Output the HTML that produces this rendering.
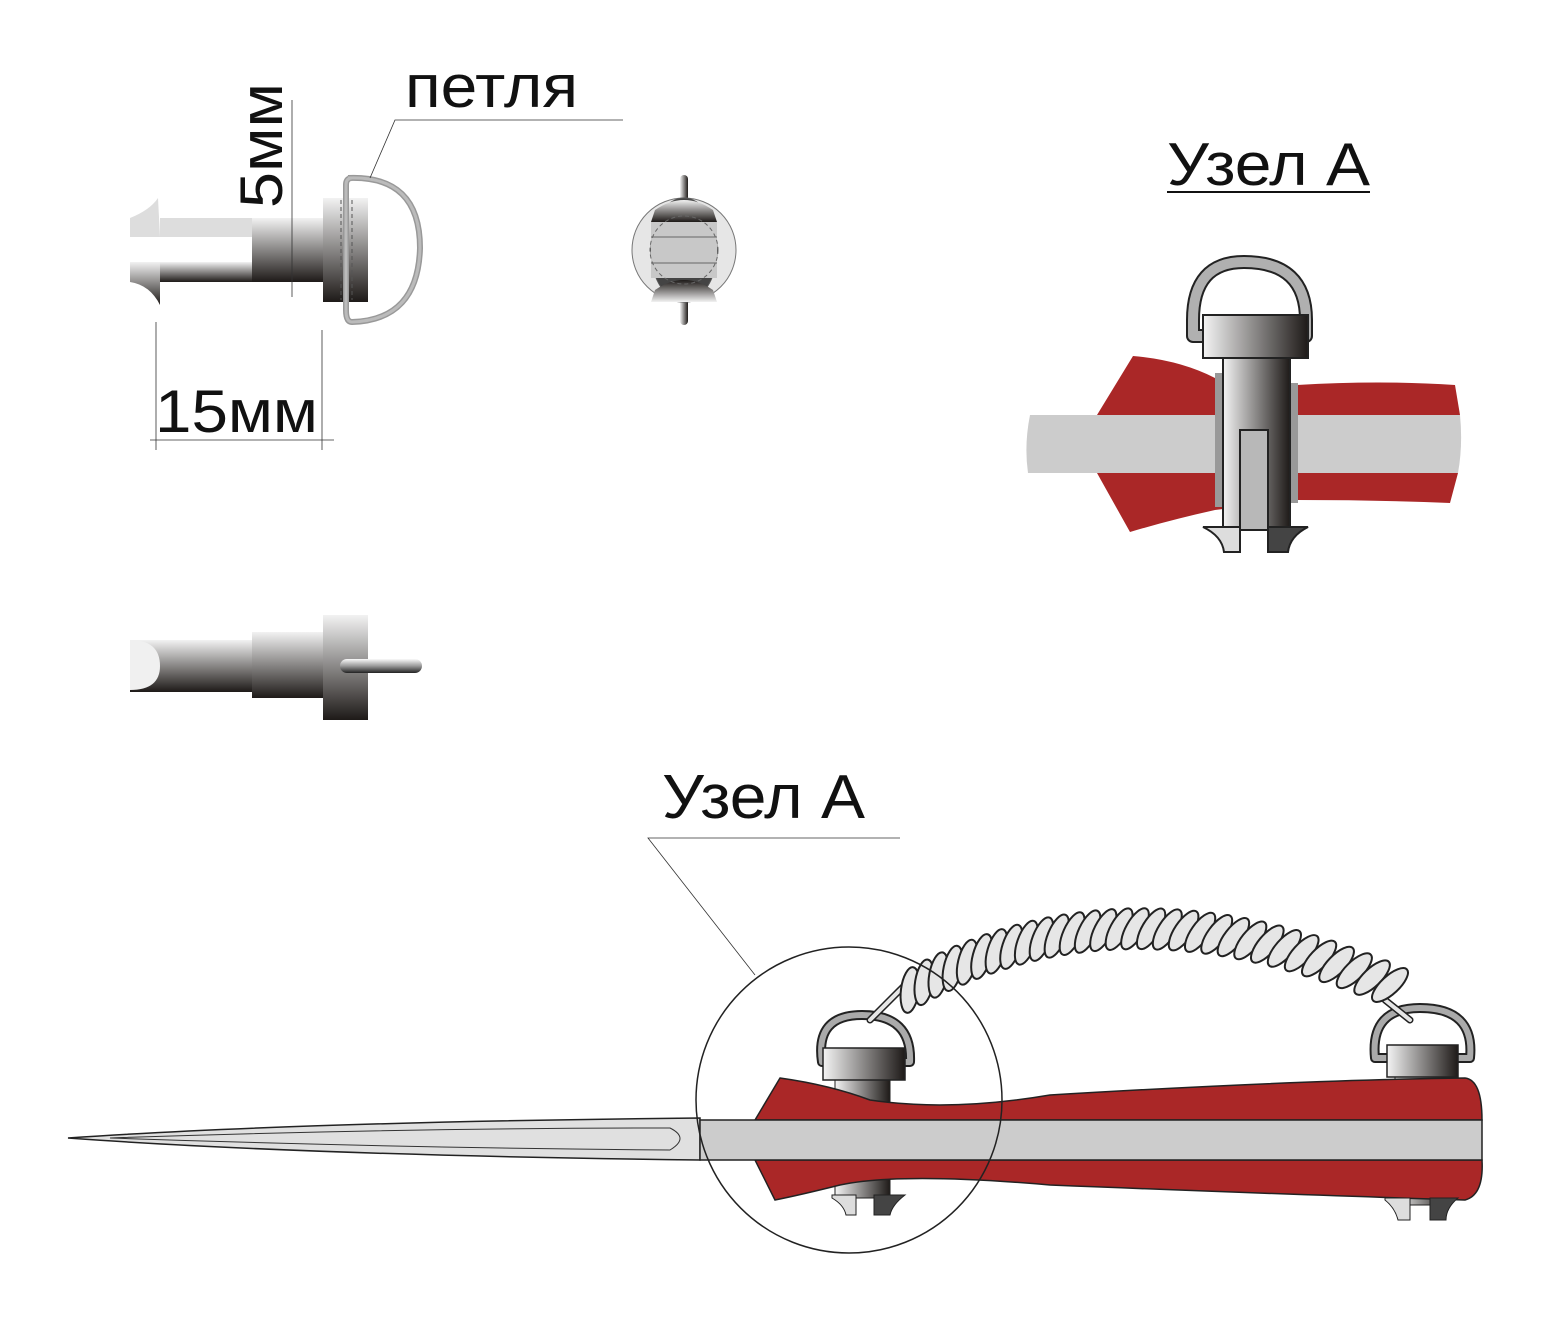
<!DOCTYPE html>
<html><head><meta charset="utf-8"><style>
html,body{margin:0;padding:0;background:#fff}
svg{display:block}
text{font-family:"Liberation Sans","DejaVu Sans",sans-serif;fill:#111}
</style></head><body>
<svg id="s" width="1549" height="1341" viewBox="0 0 1549 1341" xmlns="http://www.w3.org/2000/svg">
<defs>
<linearGradient id="gv" x1="0" y1="0" x2="0" y2="1"><stop offset="0" stop-color="#f2f2f2"/><stop offset="1" stop-color="#1e1a18"/></linearGradient>
<linearGradient id="gh" x1="0" y1="0" x2="1" y2="0"><stop offset="0" stop-color="#f4f4f4"/><stop offset="1" stop-color="#1e1a18"/></linearGradient>
<linearGradient id="gv2" x1="0" y1="0" x2="0" y2="1"><stop offset="0" stop-color="#fafafa"/><stop offset="0.5" stop-color="#9a9a9a"/><stop offset="1" stop-color="#222"/></linearGradient>
</defs>

<!-- top-left pin -->
<path d="M160,218 L252,218 L252,237 L160,237 Z" fill="#ddd"/>
<path d="M160,262 L252,262 L252,282 L160,282 Z" fill="url(#gv)"/>
<path d="M130,218 Q150,210 158,198 L160,237 L130,237 Z" fill="#ddd"/>
<path d="M130,262 L160,262 L160,305 Q150,285 130,282 Z" fill="url(#gv)"/>
<rect x="252" y="218" width="71" height="64" fill="url(#gv)"/>
<rect x="323" y="198" width="45" height="104" fill="url(#gv)"/>
<line x1="341" y1="200" x2="341" y2="300" stroke="#555" stroke-dasharray="4,3"/>
<line x1="352" y1="200" x2="352" y2="300" stroke="#555" stroke-dasharray="4,3"/>
<path d="M348,178 Q420,175 420,248 Q418,320 352,322 Q346,322 346,310 L346,185 Q346,178 352,178" fill="none" stroke="#999" stroke-width="6"/>
<path d="M348,178 Q420,175 420,248 Q418,320 352,322 Q346,322 346,310 L346,185 Q346,178 352,178" fill="none" stroke="#bbb" stroke-width="3"/>
<line x1="292" y1="100" x2="292" y2="297" stroke="#333" stroke-width="0.8"/>
<line x1="156" y1="322" x2="156" y2="450" stroke="#333" stroke-width="0.8"/>
<line x1="322" y1="330" x2="322" y2="450" stroke="#333" stroke-width="0.8"/>
<line x1="150" y1="440" x2="334" y2="440" stroke="#333" stroke-width="0.8"/>
<text x="155" y="432" font-size="60" textLength="163" lengthAdjust="spacingAndGlyphs">15мм</text>
<text transform="translate(282,208) rotate(-90)" font-size="60" textLength="125" lengthAdjust="spacingAndGlyphs">5мм</text>
<text x="405" y="107" font-size="60" textLength="173" lengthAdjust="spacingAndGlyphs">петля</text>
<polyline points="370,178 395,120 623,120" fill="none" stroke="#333" stroke-width="0.8"/>

<!-- round view -->
<rect x="680" y="175" width="8" height="150" rx="4" fill="url(#gh)"/>
<circle cx="684" cy="250" r="52" fill="#e6e6e6" stroke="#777" stroke-width="1"/>
<ellipse cx="684" cy="250" rx="33" ry="52" fill="#444" stroke="#555"/>
<path d="M651,222 L717,222 L717,278 L651,278 Z" fill="#c8c8c8"/>
<path d="M655,210 Q684,190 713,210 L717,222 L651,222 Z" fill="url(#gv)"/>
<path d="M655,290 Q684,310 713,290 L717,278 L651,278 Z" fill="url(#gv)" transform="rotate(180 684 290)"/>
<line x1="651" y1="237" x2="717" y2="237" stroke="#666"/>
<line x1="651" y1="263" x2="717" y2="263" stroke="#666"/>
<circle cx="684" cy="250" r="34" fill="none" stroke="#666" stroke-dasharray="4,3"/>

<!-- bottom-left pin side view -->
<rect x="130" y="640" width="122" height="52" fill="url(#gv)"/>
<path d="M130,640 Q160,640 160,666 Q160,690 130,690 Z" fill="#f0f0f0"/>
<rect x="252" y="632" width="71" height="66" fill="url(#gv)"/>
<rect x="323" y="615" width="45" height="105" fill="url(#gv)"/>
<rect x="340" y="659" width="82" height="14" rx="7" fill="url(#gv2)"/>

<!-- Узел A detail -->
<text x="1167" y="185" font-size="60" textLength="203" lengthAdjust="spacingAndGlyphs">Узел А</text>
<line x1="1167" y1="192" x2="1370" y2="192" stroke="#111" stroke-width="2"/>
<path d="M1030,415 L1460,415 Q1463,445 1458,473 L1028,473 Q1024,445 1030,415 Z" fill="#cccccc"/>
<path d="M1097,415 L1133,356 Q1180,360 1215,378 L1297,385 Q1380,380 1455,385 L1460,415 Z" fill="#aa2727"/>
<path d="M1097,473 L1458,473 L1450,503 Q1380,500 1297,500 L1215,510 Q1170,520 1130,532 Z" fill="#aa2727"/>
<rect x="1215" y="373" width="9" height="134" fill="#999"/>
<rect x="1289" y="383" width="9" height="120" fill="#999"/>
<path d="M1215,336 L1193,336 L1193,320 Q1193,262 1244,262 Q1306,262 1306,320 L1306,336 L1290,336" fill="none" stroke="#222" stroke-width="14" stroke-linejoin="round"/>
<path d="M1215,336 L1193,336 L1193,320 Q1193,262 1244,262 Q1306,262 1306,320 L1306,336 L1290,336" fill="none" stroke="#b0b0b0" stroke-width="10" stroke-linejoin="round"/>
<rect x="1223" y="358" width="67" height="170" fill="url(#gh)" stroke="#222" stroke-width="2"/>
<rect x="1240" y="430" width="28" height="100" fill="#b8b8b8" stroke="#222" stroke-width="2"/>
<rect x="1203" y="315" width="105" height="43" fill="url(#gh)" stroke="#222" stroke-width="2"/>
<path d="M1203,527 L1240,527 L1240,552 L1224,552 Q1222,536 1203,527 Z" fill="#ddd" stroke="#222" stroke-width="2"/>
<path d="M1268,527 L1308,527 Q1290,536 1288,552 L1268,552 Z" fill="#444" stroke="#222" stroke-width="2"/>

<!-- bottom knife -->
<text x="662" y="818" font-size="62" textLength="203" lengthAdjust="spacingAndGlyphs">Узел А</text>
<polyline points="755,975 648,838 900,838" fill="none" stroke="#333" stroke-width="0.8"/>
<path d="M68,1138 Q300,1122 700,1118 L700,1160 Q300,1155 68,1138 Z" fill="#e0e0e0" stroke="#222" stroke-width="1.5"/>
<path d="M110,1138 Q400,1128 670,1128 Q690,1138 670,1150 Q400,1148 110,1138 Z" fill="none" stroke="#333" stroke-width="1"/>
<rect x="835" y="1080" width="55" height="118" fill="url(#gh)" stroke="#222"/>
<rect x="1395" y="1075" width="55" height="130" fill="url(#gh)" stroke="#222"/>
<path d="M755,1120 L780,1078 Q830,1085 870,1100 Q950,1112 1050,1095 Q1300,1080 1465,1078 Q1482,1080 1482,1120 Z" fill="#aa2727" stroke="#222" stroke-width="1.5"/>
<path d="M755,1160 L1482,1160 Q1484,1195 1465,1200 Q1300,1195 1050,1185 Q900,1172 840,1185 Q800,1195 775,1200 Z" fill="#aa2727" stroke="#222" stroke-width="1.5"/>
<rect x="700" y="1120" width="782" height="40" fill="#cccccc" stroke="#222" stroke-width="1.5"/>
<path d="M832,1195 L856,1195 L856,1215 L846,1215 Q844,1205 832,1198 Z" fill="#ddd" stroke="#222"/>
<path d="M874,1195 L905,1195 Q892,1205 890,1215 L874,1215 Z" fill="#444" stroke="#222"/>
<path d="M1385,1198 L1410,1198 L1410,1220 L1398,1220 Q1395,1208 1385,1200 Z" fill="#ddd" stroke="#222"/>
<path d="M1430,1198 L1458,1198 Q1446,1208 1446,1220 L1430,1220 Z" fill="#444" stroke="#222"/>
<path d="M835,1062 L822,1062 Q815,1015 862,1015 Q912,1015 910,1062 L895,1062" fill="none" stroke="#222" stroke-width="10" stroke-linejoin="round"/>
<path d="M835,1062 L822,1062 Q815,1015 862,1015 Q912,1015 910,1062 L895,1062" fill="none" stroke="#aaa" stroke-width="6" stroke-linejoin="round"/>
<path d="M1395,1058 L1375,1058 Q1370,1008 1420,1008 Q1475,1008 1470,1058 L1450,1058" fill="none" stroke="#222" stroke-width="10" stroke-linejoin="round"/>
<path d="M1395,1058 L1375,1058 Q1370,1008 1420,1008 Q1475,1008 1470,1058 L1450,1058" fill="none" stroke="#aaa" stroke-width="6" stroke-linejoin="round"/>
<rect x="823" y="1048" width="82" height="32" fill="url(#gh)" stroke="#222" stroke-width="1.5"/>
<rect x="1387" y="1045" width="71" height="32" fill="url(#gh)" stroke="#222" stroke-width="1.5"/>
<line x1="870" y1="1020" x2="905" y2="985" stroke="#222" stroke-width="7" stroke-linecap="round"/>
<line x1="870" y1="1020" x2="905" y2="985" stroke="#e6e6e6" stroke-width="4" stroke-linecap="round"/>
<line x1="1385" y1="1000" x2="1410" y2="1020" stroke="#222" stroke-width="7" stroke-linecap="round"/>
<line x1="1385" y1="1000" x2="1410" y2="1020" stroke="#e6e6e6" stroke-width="4" stroke-linecap="round"/>
<g id="coil"></g>
<circle cx="849" cy="1100" r="153" fill="none" stroke="#222" stroke-width="1.5"/>
</svg>
<script>
(function(){
var g=document.getElementById('coil'),ns='http://www.w3.org/2000/svg';
var P0=[910,990],P1=[1120,870],P2=[1390,985],N=30;
for(var i=0;i<=N;i++){var t=i/N,u=1-t;
var x=u*u*P0[0]+2*u*t*P1[0]+t*t*P2[0],y=u*u*P0[1]+2*u*t*P1[1]+t*t*P2[1];
var dx=2*u*(P1[0]-P0[0])+2*t*(P2[0]-P1[0]),dy=2*u*(P1[1]-P0[1])+2*t*(P2[1]-P1[1]);
var tg=Math.atan2(dy,dx)*180/Math.PI;
var a=-60+0.75*tg;
var e=document.createElementNS(ns,'ellipse');
e.setAttribute('cx',x.toFixed(1));e.setAttribute('cy',y.toFixed(1));
e.setAttribute('rx','23');e.setAttribute('ry','9');
e.setAttribute('transform','rotate('+a.toFixed(1)+' '+x.toFixed(1)+' '+y.toFixed(1)+')');
e.setAttribute('fill','#e6e6e6');e.setAttribute('stroke','#222');e.setAttribute('stroke-width','2');
g.appendChild(e);}
})();
</script>
</body></html>
